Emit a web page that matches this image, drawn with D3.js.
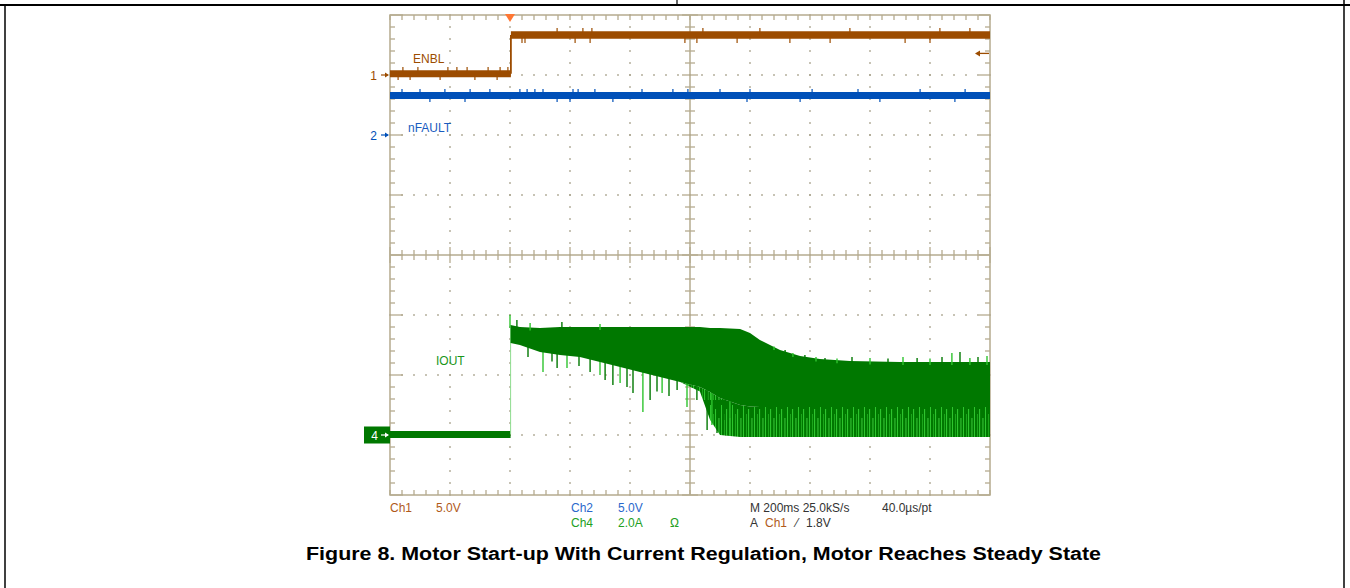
<!DOCTYPE html>
<html lang="en">
<head>
  <meta charset="UTF-8">
  <title>Figure 8. Motor Start-up With Current Regulation</title>
  <style>
    body {
      margin: 0;
      background: #fff;
      font-family: "Liberation Sans", Arial, sans-serif;
    }
    svg { display: block; }
    .scope-text { font-size: 12px; }
    .caption { font-size: 18px; font-weight: bold; fill: #000; }
  </style>
</head>
<body>
  <svg id="chart" width="1350" height="588"></svg>

  <script src="https://d3js.org/d3.v7.min.js"></script>
  <script>
    // time in ms, 200 ms/div, trigger at 0
    const timeDomain = [-400, 1600];

    // Ch1 ENBL (V): level changes at the edge times
    const enblEdges = [-400, 3, 1600];
    const enblLevels = [0.1, 3.33];
    const enblSpikeT = [-373, -357, -333, -307, -233, -207, -177, -143, -117, -73, -43, -33, -7,
                        40, 50, 157, 217, 243, 267, 273, 583, 623, 643, 757, 833, 933, 1067, 1133, 1317, 1400, 1433, 1533];
    const enblSpikeV = [-0.42, 0.67, -0.42, 0.67, -0.42, 0.67, 0.67, 0.67, -0.42, 0.67, -0.42, 0.67, 0.67,
                        2.67, 2.67, 3.92, 2.67, 3.92, 2.67, 3.92, 2.67, 2.67, 3.92, 2.67, 3.92, 2.67, 2.67, 3.92, 2.67, 2.67, 3.92, 3.92];

    // Ch2 nFAULT (V)
    const nfaultLevel = 3.3;
    const nfaultSpikeT = [-360, -300, -267, -217, -150, -133, -67, 33, 57, 83, 110, 157, 200, 210, 227, 283, 343,
                          440, 543, 593, 700, 790, 800, 967, 1007, 1160, 1233, 1367, 1483, 1517];
    const nfaultSpikeV = [3.83, 3.83, 2.75, 3.83, 2.75, 3.83, 3.83, 3.83, 3.83, 3.83, 3.83, 2.75, 2.75, 3.83, 3.83, 3.83, 2.75,
                          3.83, 3.83, 3.83, 3.83, 2.75, 3.83, 2.75, 3.83, 3.83, 2.75, 3.83, 2.75, 3.83];

    // Ch4 IOUT (A)
    const ioutOffT = [-400, 2];
    const ioutOffLevel = 0.02;
    const ioutT     = [2, 33, 100, 167, 233, 300, 367, 433, 500, 567, 633, 667, 700, 767, 800, 833, 900, 967, 1033, 1133, 1300, 1600];
    const ioutTop   = [3.67, 3.6, 3.57, 3.6, 3.6, 3.6, 3.6, 3.6, 3.6, 3.6, 3.6, 3.57, 3.57, 3.53, 3.4, 3.17, 2.83, 2.63, 2.53, 2.47, 2.43, 2.43];
    const ioutDense = [3.07, 3.0, 2.77, 2.67, 2.6, 2.43, 2.27, 2.1, 1.93, 1.77, 1.6, 1.43, 1.23, 1.0, 0.95, 0.93, 0.93, 0.93, 0.93, 0.93, 0.93, 0.93];
    const ioutFloor = [3.07, 3.0, 2.77, 2.67, 2.6, 2.43, 2.27, 2.1, 1.93, 1.77, 1.45, 0.5, 0.0, -0.07, -0.07, -0.07, -0.07, -0.07, -0.07, -0.07, -0.07, -0.07];
    const ioutDownT = [60, 110, 140, 157, 190, 230, 267, 300, 317, 343, 367, 390, 410, 443, 467, 490, 507, 530, 557, 590, 623, 657, 673, 690, 717, 733];
    const ioutDownA = [2.6, 2.1, 2.45, 2.23, 2.23, 2.3, 2.1, 2.0, 1.83, 1.67, 1.73, 1.6, 1.4, 0.77, 1.17, 1.45, 1.4, 1.3, 1.5, 0.93, 1.17, 0.17, 0.33, 0.07, 0.5, -0.03];
    const ioutUpT = [0, 23, 67, 173, 300, 850, 880, 917, 943, 983, 1020, 1050, 1090, 1140, 1200, 1260, 1310, 1357, 1400, 1440, 1473, 1500, 1533, 1560, 1590];
    const ioutUpA = [4.0, 3.83, 3.73, 3.77, 3.7, 3.05, 2.95, 2.83, 2.73, 2.67, 2.6, 2.57, 2.55, 2.6, 2.57, 2.55, 2.6, 2.57, 2.55, 2.6, 2.73, 2.77, 2.57, 2.6, 2.63];

    const trigLevel = 1.8;

    const brown = "#9c4c00", blue = "#0050b8", green = "#007800", light = "#2ec42e";
    const frame = "#b5ab8f", dotCol = "#a9a28c";

    const svg = d3.select("#chart");

    // page borders
    svg.append("line").attr("x1", 0).attr("x2", 1350).attr("y1", 5).attr("y2", 5).attr("stroke", "#000").attr("stroke-width", 1.8);
    svg.append("line").attr("x1", 5).attr("x2", 5).attr("y1", 5).attr("y2", 588).attr("stroke", "#000").attr("stroke-width", 1.5);
    svg.append("line").attr("x1", 1344).attr("x2", 1344).attr("y1", 0).attr("y2", 588).attr("stroke", "#000").attr("stroke-width", 1.5);
    svg.append("line").attr("x1", 677).attr("x2", 677).attr("y1", 0).attr("y2", 5).attr("stroke", "#000").attr("stroke-width", 1.2);

    const pLeft = 390, pRight = 990, pTop = 15, pBottom = 495;
    const x = d3.scaleLinear().domain(timeDomain).range([pLeft, pRight]);
    const yDiv = d3.scaleLinear().domain([-4, 4]).range([pBottom, pTop]);
    // ground offset (div) and units per division for each channel
    const y1 = d3.scaleLinear().domain([-7 * 5, 1 * 5]).range([pBottom, pTop]);
    const y2 = d3.scaleLinear().domain([-6 * 5, 2 * 5]).range([pBottom, pTop]);
    const y4 = d3.scaleLinear().domain([-1 * 2, 7 * 2]).range([pBottom, pTop]);

    const g = svg.append("g");

    // grid dots
    const minorX = d3.range(0, 51).map(i => pLeft + i * 12);
    const minorY = d3.range(0, 41).map(i => pTop + i * 12);
    const dots = g.append("g").attr("fill", dotCol);
    [-3, -2, -1, 1, 2, 3].forEach(d => {
      minorX.forEach(px => dots.append("rect").attr("x", px - 0.8).attr("y", yDiv(d) - 0.8).attr("width", 1.6).attr("height", 1.6));
    });
    d3.range(1, 10).filter(i => i !== 5).forEach(i => {
      const gx = pLeft + i * 60;
      minorY.forEach(py => dots.append("rect").attr("x", gx - 0.8).attr("y", py - 0.8).attr("width", 1.6).attr("height", 1.6));
    });

    // centre crosshair
    const cx = (pLeft + pRight) / 2, cy = yDiv(0);
    g.append("line").attr("x1", cx).attr("x2", cx).attr("y1", pTop).attr("y2", pBottom).attr("stroke", frame).attr("stroke-width", 1.5);
    g.append("line").attr("x1", pLeft).attr("x2", pRight).attr("y1", cy).attr("y2", cy).attr("stroke", frame).attr("stroke-width", 1.5);
    minorY.forEach((py, i) => {
      const len = i % 5 === 0 ? 8 : 5;
      g.append("line").attr("x1", cx - len).attr("x2", cx + len).attr("y1", py).attr("y2", py).attr("stroke", frame).attr("stroke-width", 1.3);
      g.append("line").attr("x1", pLeft).attr("x2", pLeft + (i % 5 === 0 ? 13 : 5)).attr("y1", py).attr("y2", py).attr("stroke", frame).attr("stroke-width", 1.3);
      g.append("line").attr("x1", pRight).attr("x2", pRight - (i % 5 === 0 ? 11 : 5)).attr("y1", py).attr("y2", py).attr("stroke", frame).attr("stroke-width", 1.3);
    });
    minorX.forEach((px, i) => {
      const len = i % 5 === 0 ? 8 : 5;
      g.append("line").attr("x1", px).attr("x2", px).attr("y1", cy - len).attr("y2", cy + len).attr("stroke", frame).attr("stroke-width", 1.3);
      g.append("line").attr("x1", px).attr("x2", px).attr("y1", pTop).attr("y2", pTop + 5).attr("stroke", frame).attr("stroke-width", 1.3);
      g.append("line").attr("x1", px).attr("x2", px).attr("y1", pBottom).attr("y2", pBottom - 5).attr("stroke", frame).attr("stroke-width", 1.3);
    });
    g.append("rect").attr("x", pLeft).attr("y", pTop).attr("width", pRight - pLeft).attr("height", pBottom - pTop)
      .attr("fill", "none").attr("stroke", frame).attr("stroke-width", 1.5);

    // helper: linear lookup in a read-off envelope
    function envAt(ts, vs, t) {
      const i = Math.max(1, Math.min(ts.length - 1, d3.bisectLeft(ts, t)));
      const k = (t - ts[i - 1]) / (ts[i] - ts[i - 1]);
      return vs[i - 1] + (vs[i] - vs[i - 1]) * Math.max(0, Math.min(1, k));
    }

    // ---- Ch4 IOUT ----
    const defs = svg.append("defs");
    const pat = defs.append("pattern").attr("id", "streaks").attr("patternUnits", "userSpaceOnUse")
      .attr("width", 11).attr("height", 40);
    pat.append("rect").attr("width", 11).attr("height", 40).attr("fill", green);
    pat.append("rect").attr("x", 0).attr("y", 9).attr("width", 1.1).attr("height", 31).attr("fill", light);
    pat.append("rect").attr("x", 3.5).attr("y", 18).attr("width", 0.9).attr("height", 22).attr("fill", "#3fd03f");
    pat.append("rect").attr("x", 6).attr("y", 5).attr("width", 1).attr("height", 35).attr("fill", light);
    pat.append("rect").attr("x", 9).attr("y", 14).attr("width", 0.8).attr("height", 26).attr("fill", "#22b022");

    const iData = ioutT.map((t, i) => ({ t, top: ioutTop[i], dense: ioutDense[i], floor: ioutFloor[i] }));

    g.append("line").attr("x1", x(ioutOffT[0])).attr("x2", x(ioutOffT[1]))
      .attr("y1", y4(ioutOffLevel)).attr("y2", y4(ioutOffLevel)).attr("stroke", green).attr("stroke-width", 7);
    g.append("line").attr("x1", x(ioutOffT[1])).attr("x2", x(ioutOffT[1]))
      .attr("y1", y4(ioutOffLevel)).attr("y2", y4(ioutTop[0])).attr("stroke", "#8fdc8f").attr("stroke-width", 1);

    g.append("path").datum(iData).attr("fill", "url(#streaks)")
      .attr("d", d3.area().x(d => x(d.t)).y0(d => y4(d.floor)).y1(d => y4(d.dense)));

    ioutDownT.forEach((t, i) => {
      g.append("line").attr("x1", x(t)).attr("x2", x(t))
        .attr("y1", y4(envAt(ioutT, ioutDense, t)) - 2).attr("y2", y4(ioutDownA[i]))
        .attr("stroke", i % 3 === 1 ? light : green).attr("stroke-width", 1.4);
    });

    g.append("path").datum(iData).attr("fill", green)
      .attr("d", d3.area().x(d => x(d.t)).y0(d => y4(d.dense)).y1(d => y4(d.top)));

    ioutUpT.forEach((t, i) => {
      g.append("line").attr("x1", x(t)).attr("x2", x(t))
        .attr("y1", y4(envAt(ioutT, ioutTop, t)) + 3).attr("y2", y4(ioutUpA[i]))
        .attr("stroke", i % 2 ? green : light).attr("stroke-width", 1.4);
    });

    // ---- Ch2 nFAULT ----
    g.append("line").attr("x1", x(timeDomain[0])).attr("x2", x(timeDomain[1]))
      .attr("y1", y2(nfaultLevel)).attr("y2", y2(nfaultLevel)).attr("stroke", blue).attr("stroke-width", 7);
    nfaultSpikeT.forEach((t, i) => {
      g.append("line").attr("x1", x(t)).attr("x2", x(t))
        .attr("y1", y2(nfaultLevel)).attr("y2", y2(nfaultSpikeV[i])).attr("stroke", blue).attr("stroke-width", 1.2);
    });

    // ---- Ch1 ENBL ----
    g.append("line").attr("x1", x(enblEdges[1])).attr("x2", x(enblEdges[1]))
      .attr("y1", y1(enblLevels[0])).attr("y2", y1(enblLevels[1])).attr("stroke", brown).attr("stroke-width", 1.8);
    enblLevels.forEach((v, i) => {
      g.append("line").attr("x1", x(enblEdges[i])).attr("x2", x(enblEdges[i + 1]))
        .attr("y1", y1(v)).attr("y2", y1(v)).attr("stroke", brown).attr("stroke-width", i ? 7.5 : 7);
    });
    enblSpikeT.forEach((t, i) => {
      const base = t < enblEdges[1] ? enblLevels[0] : enblLevels[1];
      g.append("line").attr("x1", x(t)).attr("x2", x(t))
        .attr("y1", y1(base)).attr("y2", y1(enblSpikeV[i])).attr("stroke", brown).attr("stroke-width", 1.2);
    });

    // ---- markers ----
    function groundArrow(yy, col) {
      g.append("line").attr("x1", 381).attr("x2", 388).attr("y1", yy).attr("y2", yy).attr("stroke", col).attr("stroke-width", 1.2);
      g.append("path").attr("d", `M${389},${yy} l-4,-2.5 l0,5 z`).attr("fill", col);
    }
    g.append("text").attr("class", "scope-text").attr("x", 377).attr("y", y1(0) + 4.5).attr("text-anchor", "end").attr("fill", brown).text("1");
    groundArrow(y1(0), brown);
    g.append("text").attr("class", "scope-text").attr("x", 377).attr("y", y2(0) + 4.5).attr("text-anchor", "end").attr("fill", blue).text("2");
    groundArrow(y2(0), blue);
    g.append("rect").attr("x", 364).attr("y", y4(0) - 8.5).attr("width", 26).attr("height", 17).attr("fill", green);
    g.append("text").attr("class", "scope-text").attr("x", 378).attr("y", y4(0) + 4.5).attr("text-anchor", "end").attr("fill", "#fff").text("4");
    groundArrow(y4(0), "#fff");

    // trigger position and level
    g.append("path").attr("d", `M${x(0) - 5},${pTop - 1} L${x(0) + 5},${pTop - 1} L${x(0)},${pTop + 7} Z`).attr("fill", "#ff7733");
    const ty = y1(trigLevel);
    g.append("line").attr("x1", 977).attr("x2", 989).attr("y1", ty).attr("y2", ty).attr("stroke", brown).attr("stroke-width", 1.3);
    g.append("path").attr("d", `M975,${ty} l5,-3 l0,6 z`).attr("fill", brown);

    // trace labels
    g.append("text").attr("class", "scope-text").attr("x", 413).attr("y", 63).attr("fill", brown).text("ENBL");
    g.append("text").attr("class", "scope-text").attr("x", 408).attr("y", 132).attr("fill", "#1a5cc0").text("nFAULT");
    g.append("text").attr("class", "scope-text").attr("x", 436).attr("y", 365).attr("fill", "#1a961a").text("IOUT");

    // readout
    const readout = [
      { x: 390, y: 512, t: "Ch1", c: "#b05a1a" },
      { x: 436, y: 512, t: "5.0V", c: "#b05a1a" },
      { x: 571, y: 512, t: "Ch2", c: "#2a68cc" },
      { x: 618, y: 512, t: "5.0V", c: "#2a68cc" },
      { x: 571, y: 527, t: "Ch4", c: "#22a022" },
      { x: 618, y: 527, t: "2.0A", c: "#22a022" },
      { x: 670, y: 527, t: "Ω", c: "#22a022" },
      { x: 750, y: 512, t: "M 200ms 25.0kS/s", c: "#333" },
      { x: 882, y: 512, t: "40.0µs/pt", c: "#333" },
      { x: 750, y: 527, t: "A", c: "#333" },
      { x: 765, y: 527, t: "Ch1", c: "#b05a1a" },
      { x: 796, y: 527, t: "⁄", c: "#333" },
      { x: 806, y: 527, t: "1.8V", c: "#333" }
    ];
    readout.forEach(r => g.append("text").attr("class", "scope-text").attr("x", r.x).attr("y", r.y).attr("fill", r.c).text(r.t));

    svg.append("text").attr("class", "caption").attr("x", 306).attr("y", 560)
      .attr("textLength", 795).attr("lengthAdjust", "spacingAndGlyphs")
      .text("Figure 8. Motor Start-up With Current Regulation, Motor Reaches Steady State");
  </script>
</body>
</html>
